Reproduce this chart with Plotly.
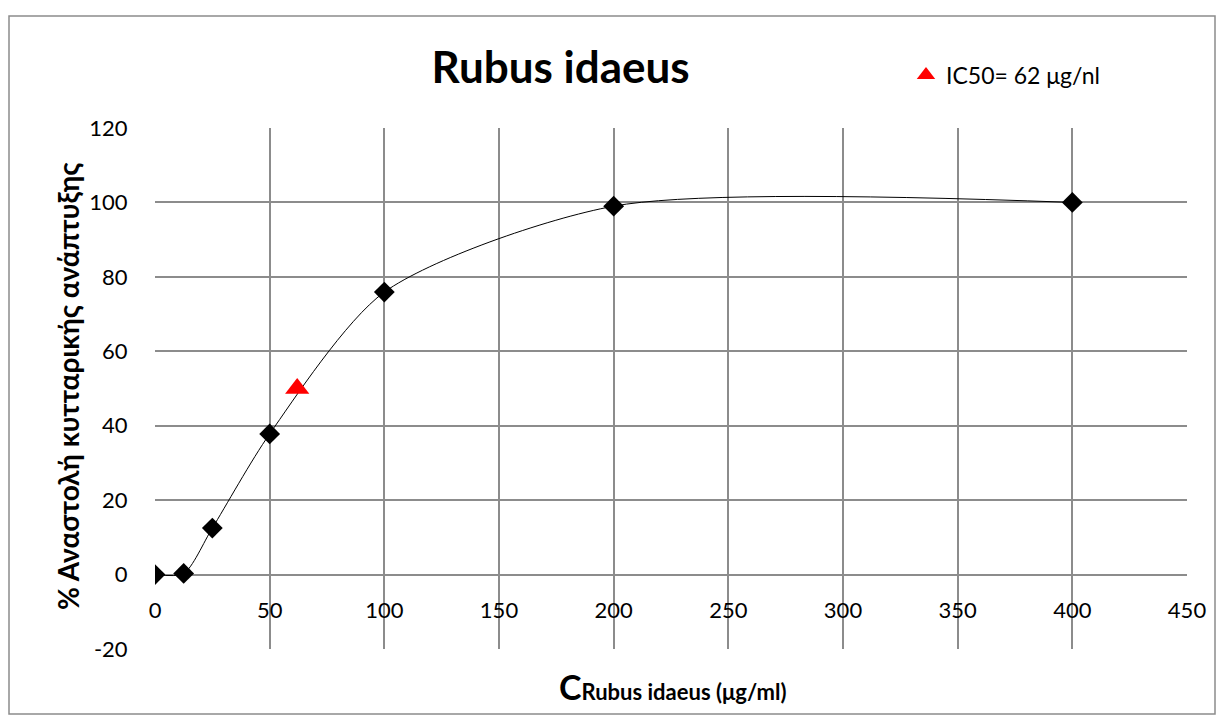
import plotly.graph_objects as go

# Data
conc = [0, 12.5, 25, 50, 100, 200, 400]
inhibition = [0, 0.3, 12.5, 37.8, 75.9, 99, 100]
ic50_x = [62]
ic50_y = [50]
x_ticks = [0, 50, 100, 150, 200, 250, 300, 350, 400, 450]
y_ticks = [-20, 0, 20, 40, 60, 80, 100, 120]
y_tick_labels = ["-20", "0", "20", "40", "60", "80", "100", "120"]

OFF = 8  # page body margin
W, H = 1224 - OFF, 722 - OFF
L, R, T, B = 155 - OFF, 1187 - OFF, 128 - OFF, 649 - OFF
FONT = "Lato, Carlito, Calibri, sans-serif"

def px_x(p):
    return (p - OFF - L) / (R - L)

def px_y(p):
    return (B - (p - OFF)) / (B - T)

fig = go.Figure()
fig.add_trace(go.Scatter(
    x=conc, y=inhibition, mode="lines+markers",
    line=dict(color="black", width=1, shape="spline", smoothing=0.75),
    marker=dict(symbol="diamond", size=16, color="black"),
    showlegend=False,
))
fig.add_trace(go.Scatter(
    x=ic50_x, y=ic50_y, mode="markers",
    marker=dict(symbol="triangle-up", size=21, color="#ff0000"),
    name="IC50= 62 μg/nl", showlegend=True,
))

grid = "#8c8c8c"
fig.update_layout(
    width=W, height=H,
    margin=dict(l=L, r=W - R, t=T, b=H - B),
    paper_bgcolor="white", plot_bgcolor="white",
    font=dict(family=FONT, color="black", size=22),
    title=dict(text="<b>Rubus idaeus</b>", x=px_x(624), xanchor="center",
               y=1 - (68 - OFF) / H, yanchor="middle", font=dict(size=44, family=FONT)),
    legend=dict(x=px_x(906), y=px_y(75), xanchor="left", yanchor="middle",
                font=dict(size=23, family=FONT), bgcolor="rgba(0,0,0,0)",
                itemwidth=30),
    xaxis=dict(range=[0, 450], tickvals=x_ticks, showgrid=True, gridcolor=grid,
               gridwidth=1.5, zeroline=False, showline=False,
               anchor="free", position=px_y(574),
               ticks="outside", ticklen=17, tickcolor="rgba(0,0,0,0)",
               tickfont=dict(size=22)),
    yaxis=dict(range=[-20, 120], tickvals=y_ticks, ticktext=y_tick_labels,
               showgrid=True, gridcolor=grid,
               gridwidth=1.5, zeroline=False, showline=False,
               ticks="outside", ticklen=22, tickcolor="rgba(0,0,0,0)",
               tickfont=dict(size=22)),
)

fig.add_annotation(
    text="<b>% Αναστολή κυτταρικής ανάπτυξης</b>",
    xref="paper", yref="paper", x=px_x(68), y=px_y(386),
    xanchor="center", yanchor="middle", textangle=-90, showarrow=False,
    font=dict(size=28, family=FONT),
)

fig.add_annotation(
    text="<b><span style='font-size:34px'>C</span>Rubus idaeus (μg/ml)</b>",
    xref="paper", yref="paper", x=px_x(672), y=px_y(686),
    xanchor="center", yanchor="middle", showarrow=False,
    font=dict(size=22, family=FONT),
)

fig.add_shape(type="rect", xref="paper", yref="paper",
              x0=px_x(9), x1=px_x(1215), y0=px_y(714), y1=px_y(16),
              line=dict(color="#8c8c8c", width=1.5), layer="below")

fig.write_html("out.html")
